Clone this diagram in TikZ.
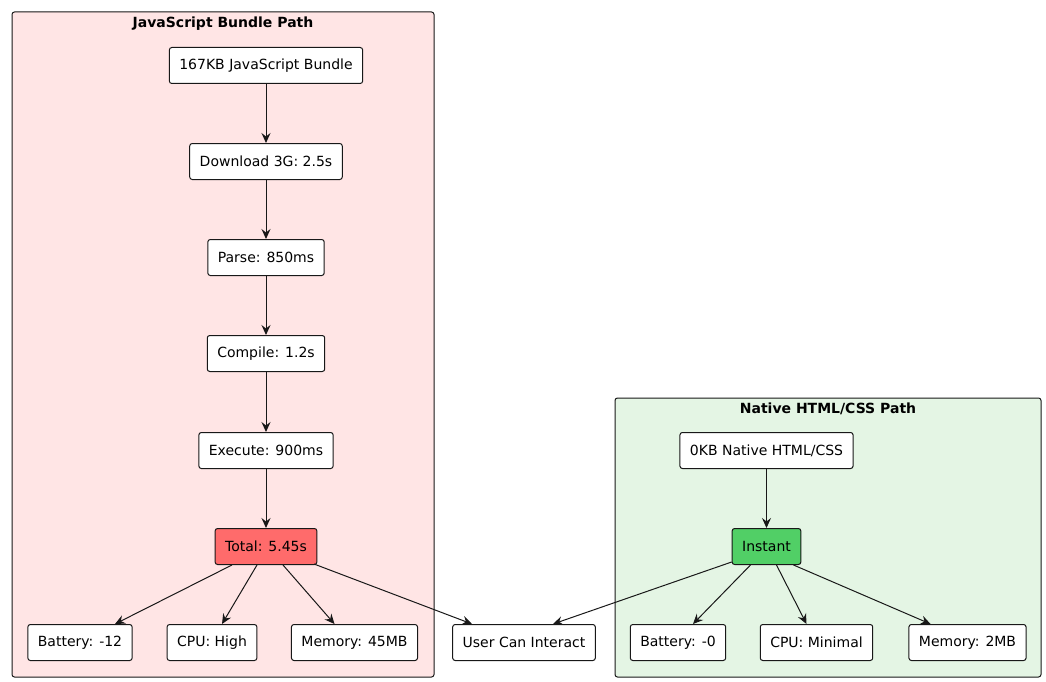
\documentclass[tikz,border=0pt]{standalone}
\usepackage{fontspec}
\setmainfont{DejaVu Sans}
\usetikzlibrary{arrows.meta}
\definecolor{jsbg}{HTML}{FFE5E5}
\definecolor{nbg}{HTML}{E4F5E4}
\definecolor{totalfill}{HTML}{FF6B6B}
\definecolor{instfill}{HTML}{51CF66}
\definecolor{ink}{HTML}{181818}
\tikzset{
  box/.style={draw=ink, line width=1pt, rounded corners=2.5pt, fill=white,
    minimum height=36pt, inner xsep=10pt, inner ysep=0pt,
    font=\fontsize{14}{16}\selectfont, text=black},
  cluster/.style={draw=ink, line width=1pt, rounded corners=2.5pt, inner sep=0pt},
  ctitle/.style={font=\bfseries\fontsize{14}{16}\selectfont, anchor=mid, text=black},
  edge/.style={draw=ink, line width=1pt, -{Stealth[length=10pt,width=9pt,inset=3.5pt]}}
}
\begin{document}
\begin{tikzpicture}[x=1pt,y=-1pt]
\useasboundingbox (0,0) rectangle (1046,682);
% clusters
\node[cluster, fill=jsbg, minimum width=422pt, minimum height=665pt] (jscl) at (223,344.5) {};
\node[ctitle] (jstitle) at ([yshift=-13pt]jscl.north) {JavaScript Bundle Path};
\node[cluster, fill=nbg, minimum width=426pt, minimum height=279pt] (ncl) at (828,537.5) {};
\node[ctitle] (ntitle) at ([yshift=-13pt]ncl.north) {Native HTML/CSS Path};
% left column
\node[box] (bundle) at (266,65.5) {167KB JavaScript Bundle};
\node[box] (dl) at (266,161.5) {Download 3G: 2.5s};
\node[box] (parse) at (266,257.5) {Parse: 850ms};
\node[box] (compile) at (266,353.5) {Compile: 1.2s};
\node[box] (exec) at (266,450.5) {Execute: 900ms};
\node[box, fill=totalfill] (total) at (266,546.5) {Total: 5.45s};
\node[box] (bat1) at (80,642.5) {Battery: -12};
\node[box] (cpu1) at (212,642.5) {CPU: High};
\node[box] (mem1) at (354.5,642.5) {Memory: 45MB};
\node[box] (user) at (524,642.5) {User Can Interact};
% right column
\node[box] (native) at (766.5,450.5) {0KB Native HTML/CSS};
\node[box, fill=instfill] (inst) at (766.5,546.5) {Instant};
\node[box] (bat2) at (678,642.5) {Battery: -0};
\node[box] (cpu2) at (816.5,642.5) {CPU: Minimal};
\node[box] (mem2) at (967.5,642.5) {Memory: 2MB};
% edges
\draw[edge] (bundle) -- (dl);
\draw[edge] (dl) -- (parse);
\draw[edge] (parse) -- (compile);
\draw[edge] (compile) -- (exec);
\draw[edge] (exec) -- (total);
\draw[edge] ([xshift=-34pt]total.south) -- ([xshift=35pt]bat1.north);
\draw[edge] ([xshift=-9pt]total.south) -- ([xshift=10pt]cpu1.north);
\draw[edge] ([xshift=17pt]total.south) -- ([xshift=-20pt]mem1.north);
\draw[edge] ([xshift=48pt,yshift=1pt]total.south) -- ([xshift=-52pt]user.north);
\draw[edge] (native) -- (inst);
\draw[edge] ([yshift=3pt]inst.south west) -- ([xshift=29pt]user.north);
\draw[edge] ([xshift=-16pt]inst.south) -- ([xshift=15pt]bat2.north);
\draw[edge] ([xshift=10pt]inst.south) -- ([xshift=-10pt]cpu2.north);
\draw[edge] ([xshift=27pt]inst.south) -- ([xshift=-37pt]mem2.north);
\end{tikzpicture}
\end{document}
